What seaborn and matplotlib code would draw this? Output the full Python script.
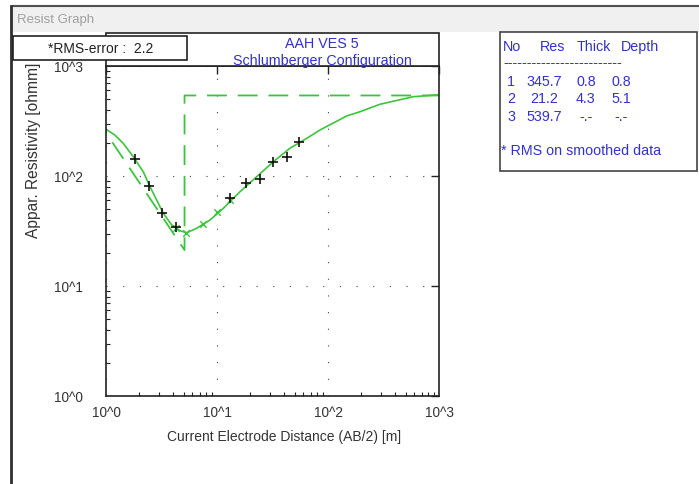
import numpy as np
import matplotlib
matplotlib.use("Agg")
import matplotlib.pyplot as plt
import seaborn as sns
from matplotlib.patches import Rectangle
from matplotlib.lines import Line2D
from matplotlib.ticker import FixedLocator, LogLocator, NullFormatter

# ---------------- data ----------------
ab2_obs = [1.83, 2.45, 3.18, 4.27, 13.1, 18.2, 24.4, 31.7, 42.5, 55.1]
rho_obs = [143, 81, 45.8, 34.6, 62.7, 85.9, 94.5, 134, 150, 205]

ab2_smooth = [4.27, 5.3, 7.5, 10.1, 13.1]
rho_smooth = [33.5, 30.1, 36.4, 46.8, 61.0]

curve_x = [1.0, 1.2, 1.43, 1.76, 2.17, 2.49, 2.86, 3.28, 3.91, 4.64, 5.33, 6.56,
           8.65, 11.4, 16.1, 22.8, 32.2, 45.5, 64.3, 84.7, 147, 194, 294, 587, 1000]
curve_y = [266, 236, 198, 150, 109, 80, 60.5, 45.8, 35.9, 31.8, 30.5, 33.5,
           39.8, 50.8, 71.9, 98.6, 135, 179, 220, 262, 351, 384, 449, 526, 548]

layer_no = [1, 2, 3]
layer_res = [345.7, 21.2, 539.7]
layer_thick = [0.8, 4.3, None]
layer_depth = [0.8, 5.1, None]

rms_error = 2.2
title_lines = ["AAH VES 5", "Schlumberger Configuration"]
window_title = "Resist Graph"
xtick_vals = [1, 10, 100, 1000]
xtick_labels = ["10^0", "10^1", "10^2", "10^3"]
ytick_vals = [1, 10, 100, 1000]
ytick_labels = ["10^0", "10^1", "10^2", "10^3"]
x_max = 1000

# model line (depth, resistivity) built from the layer table
model_x = [layer_depth[0], layer_depth[1], layer_depth[1], x_max]
model_y = [layer_res[0], layer_res[1], layer_res[2], layer_res[2]]

# ---------------- style ----------------
sns.set_style("white")
plt.rcParams['font.family'] = ['Liberation Sans', 'DejaVu Sans']

W, H = 699, 485
def fx(x):
    return x / W
def fy(y):
    return 1 - y / H

GREEN = '#3cc43c'
BLUE = '#3232c8'
DARK = '#222222'

fig = plt.figure(figsize=(W / 100, H / 100), dpi=100)
fig.patch.set_facecolor('white')

# window frame
fig.add_artist(Rectangle((fx(11), fy(33)), (W - 11) / W, 26 / H, transform=fig.transFigure,
                         facecolor='#f0f0f0', edgecolor='none', zorder=0))
fig.add_artist(Line2D([fx(11), 1], [fy(7), fy(7)], color='#505050', lw=1.5))
fig.add_artist(Line2D([fx(11), fx(11)], [fy(7), 0], color='#303030', lw=2))
fig.text(fx(17), fy(20), window_title, ha='left', va='center', fontsize=9.5, color='#a0a0a0')

# main axes
ax = fig.add_axes([fx(106), fy(397), (439 - 106) / W, (397 - 67) / H])
ax.set_xscale('log')
ax.set_yscale('log')

sns.lineplot(x=model_x, y=model_y, ax=ax, color=GREEN, lw=1.3, linestyle=(0, (11, 6)),
             sort=False, estimator=None)
sns.lineplot(x=curve_x, y=curve_y, ax=ax, color=GREEN, lw=1.2, sort=False, estimator=None)
sns.scatterplot(x=ab2_smooth, y=rho_smooth, ax=ax, marker='x', s=22, color=GREEN,
                linewidth=1.0, zorder=4)
sns.scatterplot(x=ab2_obs, y=rho_obs, ax=ax, marker='+', s=50, color='#111111',
                linewidth=1.2, zorder=5)

ax.set_xlim(1, 1000)
ax.set_ylim(1, 1000)

ax.xaxis.set_major_locator(FixedLocator(xtick_vals))
ax.set_xticklabels(xtick_labels)
ax.yaxis.set_major_locator(FixedLocator(ytick_vals))
ax.set_yticklabels(ytick_labels)
for axis in (ax.xaxis, ax.yaxis):
    axis.set_minor_locator(LogLocator(base=10, subs=np.arange(2, 10)))
    axis.set_minor_formatter(NullFormatter())

ax.grid(True, which='major', color='#444444', linestyle=(0, (1, 14)), linewidth=0.8)
ax.tick_params(which='major', direction='in', length=6, width=1.0, top=True, right=True,
               color=DARK, labelsize=9.8, labelcolor='#333333')
ax.tick_params(which='minor', direction='in', length=3, width=0.8, top=False, right=False,
               left=True, bottom=True, color=DARK)
ax.tick_params(axis='y', which='major', pad=16.5)
ax.tick_params(axis='x', which='major', pad=6.5)
for sp in ax.spines.values():
    sp.set_color(DARK)
    sp.set_linewidth(1.2)

ax.set_xlabel("Current Electrode Distance (AB/2) [m]", fontsize=10, color='#333333')
ax.xaxis.label.set_va('center')
ax.xaxis.set_label_coords((284 - 106) / 333, -(437 - 397) / 330)
ax.set_ylabel("Appar. Resistivity [ohmm]", fontsize=11.2, color='#333333')
ax.yaxis.label.set_va('center')
ax.yaxis.set_label_coords((34 - 106) / 333, (397 - 150) / 330)

# header box with title
fig.add_artist(Rectangle((fx(106), fy(67)), 333 / W, 33 / H, transform=fig.transFigure,
                         facecolor='white', edgecolor=DARK, lw=1.2, zorder=2))
fig.text(fx(322), fy(44), title_lines[0], ha='center', va='center', fontsize=10.3, color=BLUE, zorder=3)
fig.text(fx(322), fy(61), title_lines[1], ha='center', va='center', fontsize=10.3, color=BLUE, zorder=3)

# RMS box
fig.add_artist(Rectangle((fx(13), fy(61)), 174 / W, 24 / H, transform=fig.transFigure,
                         facecolor='white', edgecolor=DARK, lw=1.2, zorder=4))
fig.text(fx(101), fy(49), f"*RMS-error :  {rms_error}", ha='center', va='center',
         fontsize=10, color=DARK, zorder=5)

# layer table panel
fig.add_artist(Rectangle((fx(500), fy(172)), 197 / W, 139 / H, transform=fig.transFigure,
                         facecolor='white', edgecolor='#444444', lw=1.2, zorder=2))
tfs = 10.3
fig.text(fx(503), fy(47), "No", ha='left', va='center', fontsize=tfs, color=BLUE, zorder=3)
fig.text(fx(540), fy(47), "Res", ha='left', va='center', fontsize=tfs, color=BLUE, zorder=3)
fig.text(fx(577), fy(47), "Thick", ha='left', va='center', fontsize=tfs, color=BLUE, zorder=3)
fig.text(fx(621), fy(47), "Depth", ha='left', va='center', fontsize=tfs, color=BLUE, zorder=3)
fig.text(fx(503), fy(63), "-" * 25, ha='left', va='center', fontsize=tfs, color=BLUE, zorder=3)

def fmt(v):
    return "-.-" if v is None else f"{v:.1f}"

row_y = [82, 99, 117]
for i, n in enumerate(layer_no):
    y = fy(row_y[i])
    fig.text(fx(511), y, str(n), ha='center', va='center', fontsize=tfs, color=BLUE, zorder=3)
    fig.text(fx(544), y, fmt(layer_res[i]), ha='center', va='center', fontsize=tfs, color=BLUE, zorder=3)
    fig.text(fx(586), y, fmt(layer_thick[i]), ha='center', va='center', fontsize=tfs, color=BLUE, zorder=3)
    fig.text(fx(621), y, fmt(layer_depth[i]), ha='center', va='center', fontsize=tfs, color=BLUE, zorder=3)
fig.text(fx(501), fy(151), "* RMS on smoothed data", ha='left', va='center', fontsize=tfs,
         color=BLUE, zorder=3)

fig.savefig("out.png", dpi=100, facecolor='white')
